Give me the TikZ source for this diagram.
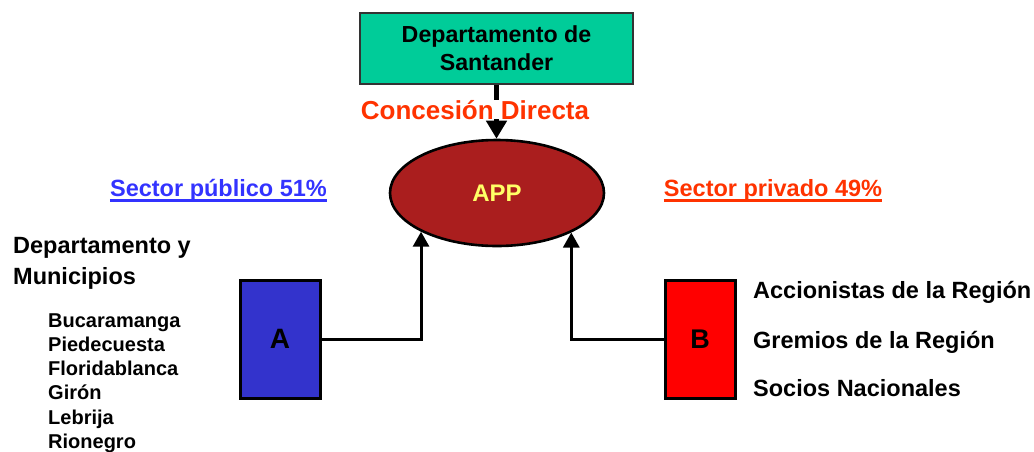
\documentclass[tikz,border=0pt]{standalone}
\usepackage{fontspec}
\setmainfont{Liberation Sans}
\usetikzlibrary{arrows.meta,shapes.geometric}
\definecolor{tealbox}{HTML}{00CC99}
\definecolor{appred}{HTML}{AA1E1E}
\definecolor{appyel}{HTML}{FFFF66}
\definecolor{orred}{HTML}{FF3300}
\definecolor{pubblue}{HTML}{3333FF}
\definecolor{boxblue}{HTML}{3333CC}
\begin{document}
\begin{tikzpicture}[x=1pt,y=-1pt,
  txt/.style={font=\fontsize{23.5}{28}\selectfont\bfseries, inner sep=0},
  city/.style={font=\fontsize{20}{24}\selectfont\bfseries, inner sep=0, anchor=base west},
  letterbox/.style={draw=black, line width=3, minimum height=118, font=\fontsize{28}{32}\selectfont\bfseries, inner sep=0},
  conn/.style={line width=3, -{Triangle[length=15pt,width=16pt]}}
]
\useasboundingbox (0,0) rectangle (1034,451);

% top box
\node[draw=black!80, line width=1.5, fill=tealbox, minimum width=273, minimum height=71,
      align=center, inner sep=0, font=\fontsize{23.2}{28}\selectfont\bfseries] (dep) at (496.5,48.5) {Departamento de\\Santander};

% APP ellipse
\node[ellipse, draw=black, line width=2.6, fill=appred, minimum width=214, minimum height=106,
      inner sep=0, text=appyel, font=\fontsize{24}{28}\selectfont\bfseries] (app) at (497,193) {APP};

% top arrow
\draw[line width=4.5, -{Triangle[length=18pt,width=20pt]}] (dep.south) -- (dep.south |- app.north);
\node[fill=white, inner sep=0, text=orred, font=\fontsize{26}{30}\selectfont\bfseries, anchor=base] (con) at (475,119) {Concesión Directa};

% sector labels
\node[txt, text=pubblue, anchor=base] (spub) at (218.5,196.5) {Sector público 51\%};
\draw[pubblue, line width=3] ([yshift=-4]spub.base west) -- ([yshift=-4]spub.base east);
\node[txt, text=orred, anchor=base] (spriv) at (773,196.5) {Sector privado 49\%};
\draw[orred, line width=3] ([yshift=-4]spriv.base west) -- ([yshift=-4]spriv.base east);

% boxes
\node[letterbox, fill=boxblue, minimum width=80] (A) at (280,339) {A};
\node[letterbox, fill=red, minimum width=70, font=\fontsize{27}{32}\selectfont\bfseries] (B) at (700,339) {B};

% connectors
\draw[conn] (A.east) -| (app.207.8);
\draw[conn] (B.west) -| (app.332.2);

% left texts
\node[txt, anchor=base west] (dy) at (13,253.5) {Departamento y};
\node[txt, anchor=base west] (mun) at (13,284.5) {Municipios};
\node[city] (c1) at (48,327) {Bucaramanga};
\node[city] (c2) at (48,351.3) {Piedecuesta};
\node[city] (c3) at (48,375.6) {Floridablanca};
\node[city] (c4) at (48,399.9) {Girón};
\node[city] (c5) at (48,424.2) {Lebrija};
\node[city] (c6) at (48,448.5) {Rionegro};

% right texts
\node[txt, anchor=base west] (r1) at (753,298.5) {Accionistas de la Región};
\node[txt, anchor=base west] (r2) at (753,348.5) {Gremios de la Región};
\node[txt, anchor=base west] (r3) at (753,396.5) {Socios Nacionales};
\end{tikzpicture}
\end{document}
